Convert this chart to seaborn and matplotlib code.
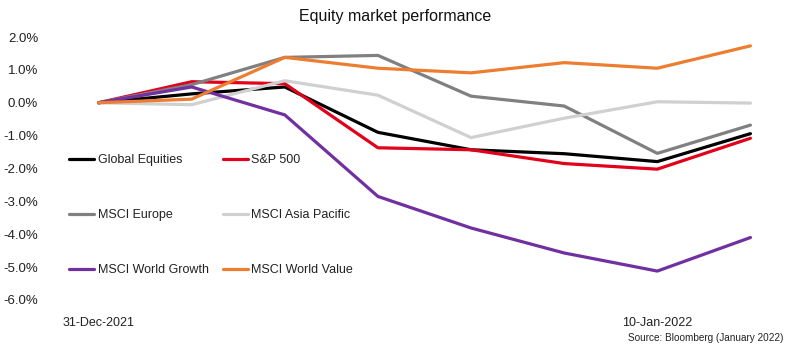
import matplotlib
matplotlib.use("Agg")
import matplotlib.pyplot as plt
import seaborn as sns
import pandas as pd
from matplotlib.ticker import FuncFormatter

dates = ["31-Dec-2021", "03-Jan-2022", "04-Jan-2022", "05-Jan-2022",
         "06-Jan-2022", "07-Jan-2022", "10-Jan-2022", "11-Jan-2022"]
global_equities = [0.00, 0.27, 0.48, -0.90, -1.43, -1.55, -1.79, -0.94]
sp500 = [0.00, 0.64, 0.58, -1.37, -1.43, -1.85, -2.02, -1.08]
msci_europe = [0.00, 0.55, 1.38, 1.44, 0.20, -0.10, -1.54, -0.68]
msci_asia_pacific = [0.00, -0.06, 0.67, 0.23, -1.06, -0.47, 0.03, -0.01]
msci_world_growth = [0.00, 0.48, -0.37, -2.85, -3.81, -4.57, -5.12, -4.10]
msci_world_value = [0.00, 0.11, 1.38, 1.05, 0.91, 1.22, 1.05, 1.73]
shown_dates = ["31-Dec-2021", "10-Jan-2022"]

series_names = ["Global Equities", "S&P 500", "MSCI Europe", "MSCI Asia Pacific",
                "MSCI World Growth", "MSCI World Value"]
colors = ["#000000", "#E2001A", "#808080", "#D0D0D0", "#7030A0", "#ED7D31"]

sns.set_theme(style="white")
plt.rcParams["font.family"] = ["Liberation Sans", "DejaVu Sans"]

df = pd.DataFrame({
    "pos": range(len(dates)),
    "Global Equities": global_equities,
    "S&P 500": sp500,
    "MSCI Europe": msci_europe,
    "MSCI Asia Pacific": msci_asia_pacific,
    "MSCI World Growth": msci_world_growth,
    "MSCI World Value": msci_world_value,
})
long = df.melt(id_vars="pos", var_name="series", value_name="value")

fig = plt.figure(figsize=(7.97, 3.49), dpi=100)
ax = fig.add_axes([52 / 797, 49 / 349, 745 / 797, 263 / 349])

sns.lineplot(data=long, x="pos", y="value", hue="series", hue_order=series_names,
             palette=colors, linewidth=2.3, ax=ax, legend=True)

ax.set_xlim(-0.5, 7.5)
ax.set_ylim(-6, 2)
ax.set_yticks(range(-6, 3))
ax.yaxis.set_major_formatter(FuncFormatter(lambda v, p: f"{v:.1f}%"))
ax.set_xticks([dates.index(d) for d in shown_dates])
ax.set_xticklabels(shown_dates, fontsize=9)
ax.tick_params(axis="y", labelsize=9.5, pad=10, length=0, colors="#222222")
ax.tick_params(axis="x", pad=12, length=0, colors="#222222")
ax.set_xlabel("")
ax.set_ylabel("")
for s in ax.spines.values():
    s.set_visible(False)
ax.grid(False)

handles, labels = ax.get_legend_handles_labels()
hmap = dict(zip(labels, handles))
order = ["Global Equities", "MSCI Europe", "MSCI World Growth",
         "S&P 500", "MSCI Asia Pacific", "MSCI World Value"]
leg = ax.legend([hmap[o] for o in order], order, ncol=2, loc="upper left",
                bbox_to_anchor=(17 / 745, 1 - (159 - 37 - 5) / 263), frameon=False,
                fontsize=9, labelspacing=3.45, handlelength=2.0, handletextpad=0.3,
                columnspacing=1.1, borderaxespad=0, borderpad=0)
for t in leg.get_texts():
    t.set_color("#222222")

fig.text(395 / 797, 1 - 17 / 349, "Equity market performance", ha="center", va="center",
         fontsize=11.5, color="#111111")
fig.text(783 / 797, 1 - 338 / 349, "Source: Bloomberg (January 2022)", ha="right",
         va="center", fontsize=7.2, color="#222222")

fig.savefig("out.png", dpi=100)
